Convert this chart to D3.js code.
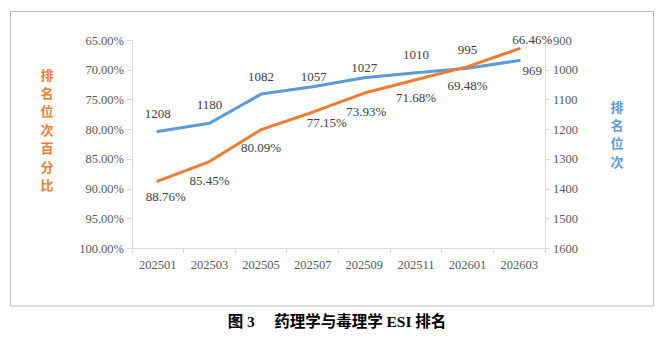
<!DOCTYPE html>
<html><head><meta charset="utf-8">
<script src="https://cdn.jsdelivr.net/npm/d3@7"></script>
<style>
html,body{margin:0;padding:0;background:#fff;}
svg{display:block;}
</style></head>
<body>
<svg id="c" width="664" height="338"></svg>
<script>
const categories = ["202501","202503","202505","202507","202509","202511","202601","202603"];
const percentValues = [88.76, 85.45, 80.09, 77.15, 73.93, 71.68, 69.48, 66.46];
const rankValues = [1208, 1180, 1082, 1057, 1027, 1010, 995, 969];
const leftTicks = [65, 70, 75, 80, 85, 90, 95, 100];
const rightTicks = [900, 1000, 1100, 1200, 1300, 1400, 1500, 1600];
const leftTitle = ["排","名","位","次","百","分","比"];
const rightTitle = ["排","名","位","次"];
const captionText = "图 3　 药理学与毒理学 ESI 排名";

// label layout offsets (dx, dy) relative to the point
const pctLabelOffsets = [[8,15],[0,19],[0,18],[14,10],[2,18],[0,18],[0,18.5],[13,-9.5]];
const rankLabelOffsets = [[0,-18],[0,-18.5],[0,-18],[1,-10],[0,-10.7],[0,-18],[0,-18.5],[13,10]];

const svg = d3.select("#c");
const orange = "#ED7D31", blue = "#5B9BD5", axisCol = "#D9D9D9", tickText = "#595959", labelText = "#404040";
const serif = "Liberation Serif, Times New Roman, serif";
const cjk = "Noto Sans CJK SC, Noto Sans CJK TC, sans-serif";

svg.append("rect").attr("x",10.5).attr("y",11.5).attr("width",643).attr("height",294.5)
  .attr("fill","none").attr("stroke","#BFBFBF").attr("stroke-width",1);

const L = 132, R = 545, T = 40, B = 248;
const x = d3.scaleBand().domain(categories).range([L, R]);
const yL = d3.scaleLinear().domain([65, 100]).range([T, B]);
const yR = d3.scaleLinear().domain([900, 1600]).range([T, B]);

const gL = svg.append("g").attr("transform",`translate(${L},0)`)
  .call(d3.axisLeft(yL).tickValues(leftTicks).tickSize(5).tickPadding(3).tickFormat(d => d3.format(".2f")(d) + "%"));
const gR = svg.append("g").attr("transform",`translate(${R},0)`)
  .call(d3.axisRight(yR).tickValues(rightTicks).tickSize(5).tickPadding(3).tickFormat(d3.format("d")));
const gB = svg.append("g").attr("transform",`translate(0,${B})`)
  .call(d3.axisBottom(x).tickSize(0).tickPadding(12));
const bounds = categories.map(c => x(c)).concat([R]);
svg.append("g").selectAll("line").data(bounds).join("line")
  .attr("x1", d => d).attr("x2", d => d).attr("y1", B).attr("y2", B + 5)
  .attr("stroke", axisCol).attr("stroke-width", 1).attr("shape-rendering","crispEdges");

[gL, gR, gB].forEach(g => {
  g.attr("font-family", serif).attr("font-size", 12.5);
  g.select(".domain").attr("stroke", axisCol).attr("shape-rendering","crispEdges");
  g.selectAll(".tick line").attr("stroke", axisCol).attr("shape-rendering","crispEdges");
  g.selectAll(".tick text").attr("fill", tickText).style("font-family", serif).attr("font-size", 12.5);
});
gL.select(".domain").attr("d", `M0,${T}V${B}`);
gR.select(".domain").attr("d", `M0,${T}V${B}`);
gB.select(".domain").attr("d", `M${L},0H${R}`);

const cx = c => x(c) + x.bandwidth() / 2;

const lineP = d3.line().x((d,i) => cx(categories[i])).y(d => yL(d));
const lineR = d3.line().x((d,i) => cx(categories[i])).y(d => yR(d));
svg.append("path").datum(rankValues).attr("d", lineR).attr("fill","none")
  .attr("stroke", blue).attr("stroke-width", 3).attr("stroke-linejoin","round").attr("stroke-linecap","round");
svg.append("path").datum(percentValues).attr("d", lineP).attr("fill","none")
  .attr("stroke", orange).attr("stroke-width", 3).attr("stroke-linejoin","round").attr("stroke-linecap","round");

svg.append("g").selectAll("text").data(rankValues).join("text")
  .attr("x", (d,i) => cx(categories[i]) + rankLabelOffsets[i][0])
  .attr("y", (d,i) => yR(d) + rankLabelOffsets[i][1])
  .attr("dy", "0.35em").attr("text-anchor","middle")
  .style("font-family", serif).attr("font-size", 13).attr("fill", labelText)
  .text(d => d);
svg.append("g").selectAll("text").data(percentValues).join("text")
  .attr("x", (d,i) => cx(categories[i]) + pctLabelOffsets[i][0])
  .attr("y", (d,i) => yL(d) + pctLabelOffsets[i][1])
  .attr("dy", "0.35em").attr("text-anchor","middle")
  .style("font-family", serif).attr("font-size", 13).attr("fill", labelText)
  .text(d => d3.format(".2f")(d) + "%");

svg.append("g").selectAll("text").data(leftTitle).join("text")
  .attr("x", 47).attr("y", (d,i) => 75 + i * 18.4).attr("dy","0.35em")
  .attr("text-anchor","middle").style("font-family", cjk).attr("font-size", 13).attr("font-weight", 700)
  .attr("fill", orange).text(d => d);
svg.append("g").selectAll("text").data(rightTitle).join("text")
  .attr("x", 617).attr("y", (d,i) => 107 + i * 18.4).attr("dy","0.35em")
  .attr("text-anchor","middle").style("font-family", cjk).attr("font-size", 13).attr("font-weight", 700)
  .attr("fill", blue).text(d => d);

svg.append("text").attr("x", 337).attr("y", 322).attr("dy","0.35em").attr("text-anchor","middle")
  .style("font-family", "Liberation Serif, Noto Sans CJK SC, serif").attr("font-size", 15.5).attr("font-weight", 700)
  .style("white-space","pre").attr("fill", "#000").text(captionText);
</script>
</body></html>
